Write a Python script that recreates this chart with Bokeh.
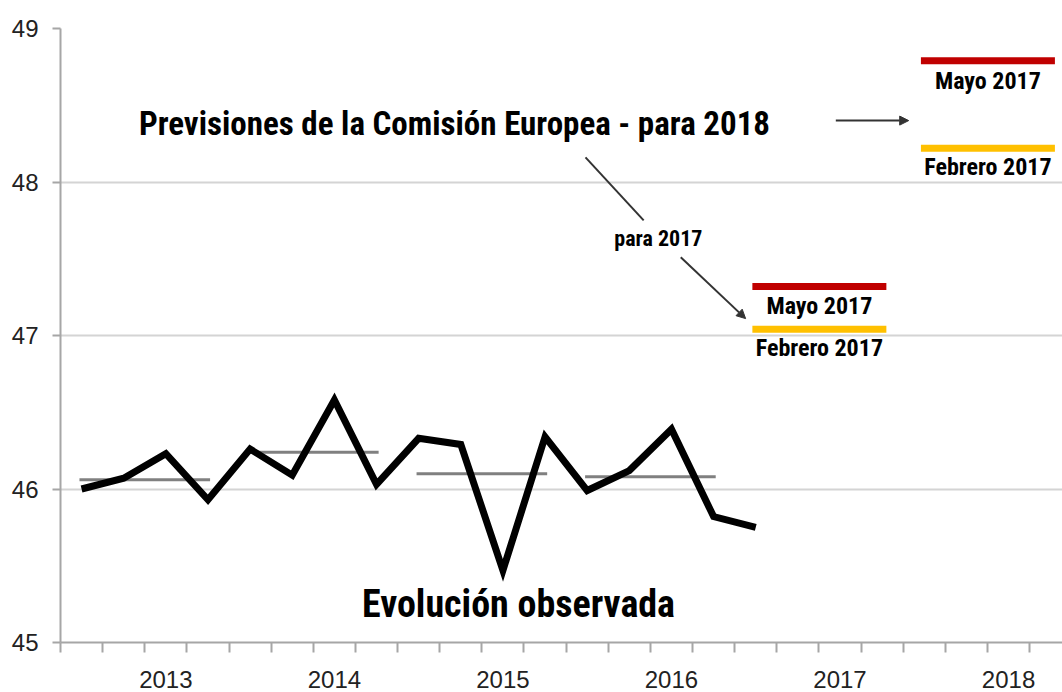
from bokeh.plotting import figure
from bokeh.models import Range1d, FixedTicker, ColumnDataSource, Arrow, NormalHead
from bokeh.core.properties import value
from bokeh.embed import file_html
from bokeh.resources import INLINE

# ---------------- data ----------------
years = [2013, 2014, 2015, 2016, 2017, 2018]
year_labels = ["2013", "2014", "2015", "2016", "2017", "2018"]

# quarterly observations, 2013-T1 .. 2017-T1
observed = [46.00, 46.07, 46.23, 45.93,
            46.26, 46.09, 46.58, 46.03,
            46.33, 46.29, 45.47, 46.34,
            45.99, 46.12, 46.39, 45.82,
            45.75]

annual_years = [2013, 2014, 2015, 2016]
annual_avg = [46.06, 46.24, 46.10, 46.08]

forecast_years = [2017, 2018]
forecast_mayo = [47.32, 48.79]
forecast_febrero = [47.04, 48.22]
mayo_text = "Mayo 2017"
febrero_text = "Febrero 2017"

title_text = "Previsiones de la Comisión Europea - para 2018"
sub_text = "para 2017"
obs_text = "Evolución observada"

# ---------------- helpers ----------------
Q = 4
def ystart(y):
    return (y - years[0]) * Q

F1 = value("Roboto Condensed")

p = figure(width=1062, height=692, output_backend="svg", toolbar_location=None,
           x_range=Range1d(0, 23.78), y_range=Range1d(45, 49),
           min_border_left=60, min_border_top=28, min_border_right=0,
           min_border_bottom=50)
p.outline_line_color = None
p.background_fill_color = "white"

# axes
p.yaxis.ticker = FixedTicker(ticks=[45, 46, 47, 48, 49])
p.yaxis.major_label_text_font = "Liberation Sans"
p.yaxis.major_label_text_font_size = "24px"
p.yaxis.major_label_text_color = "#222222"
p.yaxis.axis_line_color = "#a6a6a6"
p.yaxis.axis_line_width = 2
p.yaxis.major_tick_line_color = "#a6a6a6"
p.yaxis.major_tick_line_width = 2
p.yaxis.major_tick_out = 8
p.yaxis.major_tick_in = 0
p.yaxis.minor_tick_line_color = None
p.yaxis.major_label_standoff = 14

label_pos = [ystart(y) + 2.5 for y in years]
p.xaxis.ticker = FixedTicker(ticks=label_pos,
                             minor_ticks=list(range(0, Q * len(years) + 1)))
p.xaxis.major_label_overrides = {lp: lab for lp, lab in zip(label_pos, year_labels)}
p.xaxis.major_label_text_font = "Liberation Sans"
p.xaxis.major_label_text_font_size = "24px"
p.xaxis.major_label_text_color = "#222222"
p.xaxis.axis_line_color = "#a6a6a6"
p.xaxis.axis_line_width = 2
p.xaxis.major_tick_line_color = None
p.xaxis.major_tick_out = 0
p.xaxis.major_tick_in = 0
p.xaxis.minor_tick_line_color = "#a6a6a6"
p.xaxis.minor_tick_line_width = 2
p.xaxis.minor_tick_out = 10
p.xaxis.minor_tick_in = 0
p.xaxis.major_label_standoff = 18

p.xgrid.grid_line_color = None
p.ygrid.ticker = FixedTicker(ticks=[45, 46, 47, 48, 49])
p.ygrid.grid_line_color = "#d4d4d4"
p.ygrid.grid_line_width = 2

# annual averages (grey)
src_avg = ColumnDataSource(dict(
    x0=[ystart(y) + 0.45 for y in annual_years],
    x1=[ystart(y) + 3.55 for y in annual_years],
    y=annual_avg))
p.segment("x0", "y", "x1", "y", source=src_avg, line_color="#808080", line_width=3)

# observed quarterly line
src_obs = ColumnDataSource(dict(x=[i + 0.5 for i in range(len(observed))], y=observed))
p.line("x", "y", source=src_obs, line_color="black", line_width=7, line_join="miter")

# forecasts
src_fc = ColumnDataSource(dict(
    x0=[ystart(y) + 0.42 for y in forecast_years],
    x1=[ystart(y) + 3.6 for y in forecast_years],
    xc=[ystart(y) + 2.01 for y in forecast_years],
    mayo=forecast_mayo, feb=forecast_febrero,
    mayo_t=[mayo_text] * len(forecast_years),
    feb_t=[febrero_text] * len(forecast_years)))
p.segment("x0", "mayo", "x1", "mayo", source=src_fc, line_color="#c00000", line_width=7)
p.segment("x0", "feb", "x1", "feb", source=src_fc, line_color="#ffc000", line_width=7)
p.text("xc", "mayo", text="mayo_t", source=src_fc, y_offset=20,
       text_align="center", text_baseline="middle", text_font=F1,
       text_font_style="bold", text_font_size="24px", text_color="black")
p.text("xc", "feb", text="feb_t", source=src_fc, y_offset=19,
       text_align="center", text_baseline="middle", text_font=F1,
       text_font_style="bold", text_font_size="24px", text_color="black")

# annotation texts
p.text([9.35], [48.38], text=[title_text], text_align="center", text_baseline="middle",
       text_font=F1, text_font_style="bold", text_font_size="33px", text_color="black")
p.text([14.19], [47.63], text=[sub_text], text_align="center", text_baseline="middle",
       text_font=F1, text_font_style="bold", text_font_size="22px", text_color="black")
p.text([10.87], [45.25], text=[obs_text], text_align="center", text_baseline="middle",
       text_font=F1, text_font_style="bold", text_font_size="38px", text_color="black")

# arrows
p.add_layout(Arrow(x_start=18.40, y_start=48.40, x_end=20.13, y_end=48.40,
                   line_color="#333333", line_width=2,
                   end=NormalHead(size=9, fill_color="#333333", line_color="#333333")))
p.add_layout(Arrow(x_start=12.46, y_start=48.16, x_end=13.84, y_end=47.75,
                   line_color="#333333", line_width=2, end=None))
p.add_layout(Arrow(x_start=14.72, y_start=47.51, x_end=16.26, y_end=47.11,
                   line_color="#333333", line_width=2,
                   end=NormalHead(size=9, fill_color="#333333", line_color="#333333")))

open("out.html", "w").write(file_html(p, INLINE))
